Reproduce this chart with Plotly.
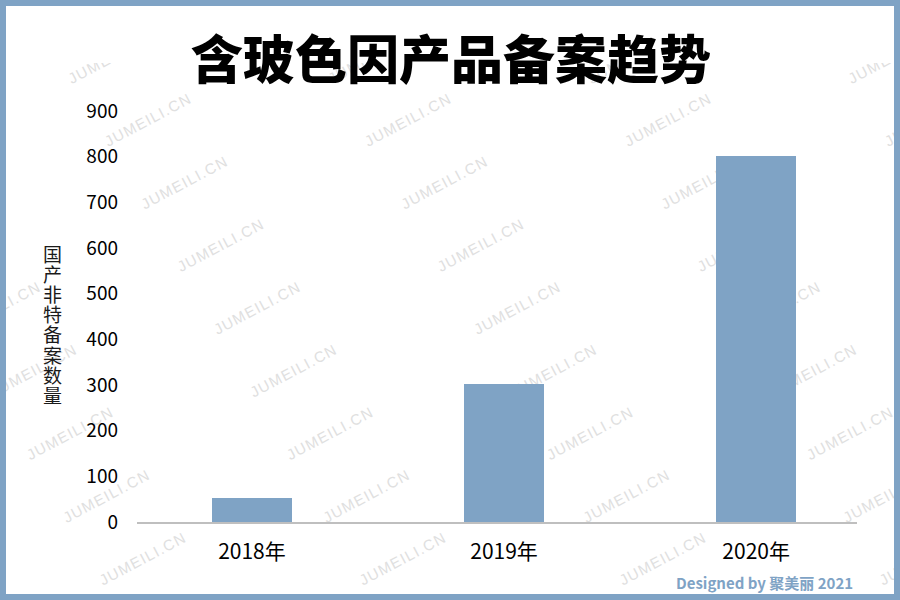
import plotly.graph_objects as go

# Filing counts of domestic non-special cosmetics containing Pro-Xylane
years = ["2018年", "2019年", "2020年"]
filings = [53, 302, 802]

title_text = "含玻色因产品备案趋势"
y_title = "国产非特备案数量"
credit = "Designed by 聚美丽 2021"
watermark = "JUMEILI.CN"

W, H = 900, 600
# plot-area box in pixels
PL, PR, PT, PB = 137, 857, 111, 522
BLUE = "#7FA3C5"
CJK = "Noto Sans CJK SC"


def px_x(px):
    return (px - PL) / (PR - PL)


def px_y(py):
    return (PB - py) / (PB - PT)


fig = go.Figure()
fig.add_trace(go.Bar(
    x=years, y=filings,
    marker=dict(color=BLUE, line=dict(width=0)),
    width=0.317,
    hoverinfo="skip",
))

shapes = []

# tiled diagonal watermark, drawn beneath the bars
spaced = "\u200a".join(watermark)
for col in range(-3, 4):
    for k in range(-2, 10):
        cx = 147 + 36.4 * k + 260 * col
        cy = 119 + 62.7 * k
        if -80 < cx < W + 80 and -60 < cy < H + 60:
            shapes.append(dict(
                type="rect", xref="paper", yref="paper", layer="below",
                x0=px_x(cx - 1), x1=px_x(cx + 1),
                y0=px_y(cy + 1), y1=px_y(cy - 1),
                line=dict(width=0), fillcolor="rgba(0,0,0,0)",
                label=dict(text=spaced, textangle=-28,
                           textposition="middle center",
                           font=dict(family="Liberation Sans", size=15,
                                     color="#e0e0e0")),
            ))

# white band behind the headline
shapes.append(dict(
    type="rect", xref="paper", yref="paper", layer="below",
    x0=px_x(0), x1=px_x(W), y0=px_y(63), y1=px_y(0),
    line=dict(width=0), fillcolor="white",
))

# frame
shapes.append(dict(
    type="rect", xref="paper", yref="paper", layer="above",
    x0=px_x(3), x1=px_x(W - 3), y0=px_y(H - 3), y1=px_y(3),
    line=dict(width=6, color=BLUE), fillcolor="rgba(0,0,0,0)",
))

annotations = [
    dict(text=title_text, xref="paper", yref="paper",
         x=px_x(451), y=px_y(56), xanchor="center", yanchor="middle",
         showarrow=False,
         font=dict(family=CJK, size=52, color="#000000", weight=900)),
    dict(text=credit, xref="paper", yref="paper",
         x=px_x(855), y=px_y(582), xanchor="right", yanchor="middle",
         showarrow=False,
         font=dict(family=CJK, size=15, color=BLUE, weight="bold")),
]

# vertical axis title, one character per row
for i, ch in enumerate(y_title):
    annotations.append(dict(
        text=ch, xref="paper", yref="paper",
        x=px_x(52), y=px_y(253 + i * 20.2), xanchor="center", yanchor="middle",
        showarrow=False, borderpad=0,
        font=dict(family=CJK, size=19, color="#1a1a1a"),
    ))

fig.update_layout(
    width=W, height=H,
    margin=dict(l=PL, r=W - PR, t=PT, b=H - PB, pad=0),
    paper_bgcolor="white",
    plot_bgcolor="rgba(0,0,0,0)",
    showlegend=False,
    shapes=shapes,
    annotations=annotations,
    bargap=0,
)

fig.update_xaxes(
    type="category",
    range=[-0.456, 2.4],
    showline=True, linecolor="#bfbfbf", linewidth=2,
    showgrid=False, zeroline=False, ticks="",
    ticklabelstandoff=10,
    tickfont=dict(family=CJK, size=21, color="#000000"),
    fixedrange=True,
)
fig.update_yaxes(
    range=[0, 900], dtick=100, tick0=0,
    showline=False, showgrid=False, zeroline=False, ticks="",
    ticklabelstandoff=18,
    tickfont=dict(family=CJK, size=19, color="#000000"),
    fixedrange=True,
)

fig.write_html("out.html", config=dict(displayModeBar=False))
